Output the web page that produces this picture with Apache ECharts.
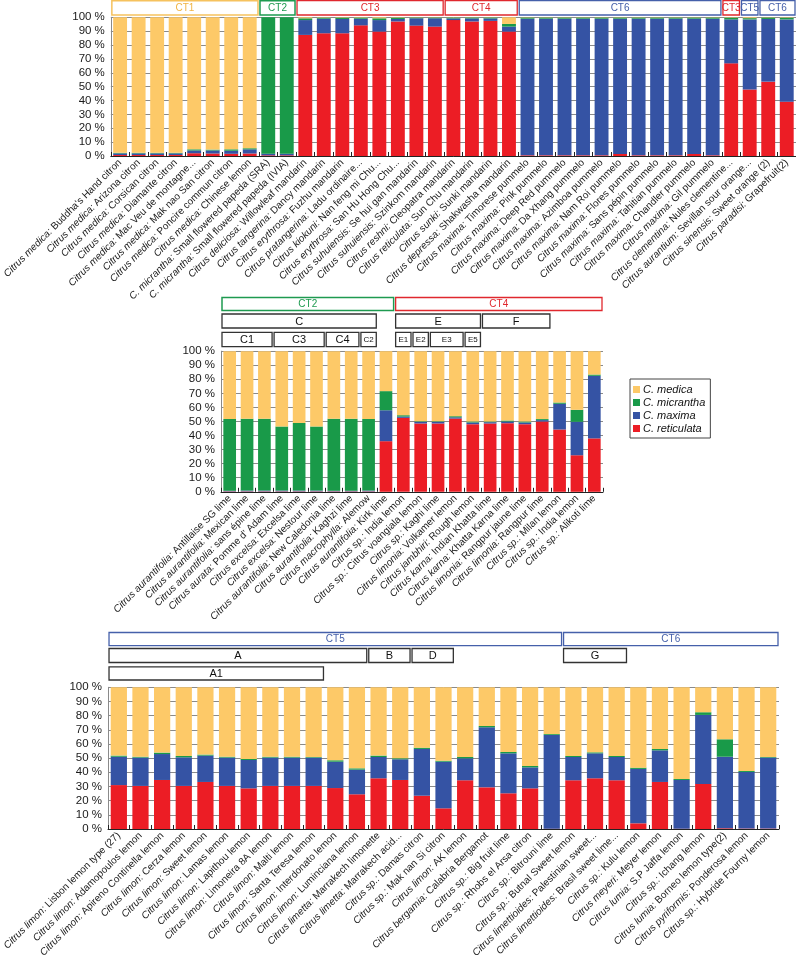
<!DOCTYPE html>
<html>
<head>
<meta charset="utf-8">
<script src="https://cdn.jsdelivr.net/npm/echarts@6/dist/echarts.min.js"></script>
<style>html,body{margin:0;padding:0;background:#fff;}#c{width:796px;height:961px;}</style>
</head>
<body>
<div id="c"></div>
<script>
// ---------- DATA ----------
const seriesNames = ['C. reticulata', 'C. maxima', 'C. micrantha', 'C. medica'];
const legendOrder = ['C. medica', 'C. micrantha', 'C. maxima', 'C. reticulata'];

const topCats = [
  "Citrus medica: Buddha's Hand citron", "Citrus medica: Arizona citron", "Citrus medica: Corsican citron",
  "Citrus medica: Diamante citron", "Citrus medica: Mac Veu de montagne...", "Citrus medica: Mak nao San citron",
  "Citrus medica: Poncire commun citron", "Citrus medica: Chinese lemon", "C. micrantha: Small flowered papeda (SRA)",
  "C. micrantha: Small flowered papeda (IVIA)", "Citrus deliciosa: Willowleaf mandarin", "Citrus tangerina: Dancy mandarin",
  "Citrus erythrosa: Fuzhu mandarin", "Citrus pratangerina: Ladu ordinaire...", "Citrus kiokuni: Nan feng mi Chu...",
  "Citrus erythrosa: San Hu Hong Chu...", "Citrus suhuiensis: Se hui gan mandarin", "Citrus suhuiensis: Szinkom mandarin",
  "Citrus reshni: Cleopatra mandarin", "Citrus reticulata: Sun Chu mandarin", "Citrus sunki: Sunki mandarin",
  "Citrus depressa: Shakwasha mandarin", "Citrus maxima: Timorese pummelo", "Citrus maxima: Pink pummelo",
  "Citrus maxima: Deep Red pummelo", "Citrus maxima: Da Xhang pummelo", "Citrus maxima: Azimboa pummelo",
  "Citrus maxima: Nam Roi pummelo", "Citrus maxima: Flores pummelo", "Citrus maxima: Sans pépin pummelo",
  "Citrus maxima: Tahitian pummelo", "Citrus maxima: Chandler pummelo", "Citrus maxima: Gil pummelo",
  "Citrus clementina: Nules clementine...", "Citrus aurantium: Sevillan sour orange...", "Citrus sinensis: Sweet orange (2)",
  "Citrus paradisi: Grapefruit(2)"
];
const topReticulata = [0.7,0.7,0.7,0.7,2,1.8,1.6,1.8,0.5,0.5,87.3,88.5,88.5,94.2,89.7,97,94,93.3,98,97,97.4,89.7,0.5,0.5,0.5,0.5,0.5,1.5,0.5,0.5,0.5,1.5,0.5,66.8,48,53.6,39.2];
const topMaxima     = [1.2,1.2,1.2,1.2,2,2.2,2.2,3,1.2,1.2,10.7,10.5,10.3,4.8,8.3,1.8,5.3,6,1.2,2.2,1.8,3.6,98.5,98.5,98.5,98.5,98.5,97.5,98.5,98.5,98.5,97.5,98.5,31.7,50.5,45.2,59.3];
const topMicrantha  = [0.4,0.4,0.4,0.4,0.8,0.6,1,0.8,98.3,98.3,1.3,0.7,0.9,0.7,1.3,0.9,0.5,0.5,0.6,0.6,0.6,1.9,0.8,0.8,0.8,0.8,0.8,0.8,0.8,0.8,0.8,0.8,0.8,1.2,0.9,1,1.2];
const topMedica     = [97.7,97.7,97.7,97.7,95.2,95.4,95.2,94.4,0,0,0.7,0.3,0.3,0.3,0.7,0.3,0.2,0.2,0.2,0.2,0.2,4.8,0.2,0.2,0.2,0.2,0.2,0.2,0.2,0.2,0.2,0.2,0.2,0.3,0.6,0.2,0.3];

const midCats = [
  "Citrus aurantifolia: Antillaise SG lime", "Citrus aurantifolia: Mexican lime", "Citrus aurantifolia: sans épine lime",
  "Citrus aurata: Pomme d' Adam lime", "Citrus excelsa: Excelsa lime", "Citrus excelsa: Nestour lime",
  "Citrus aurantifolia: New Caledonia lime", "Citrus aurantifolia: Kaghzi lime", "Citrus macrophylla: Alemow",
  "Citrus aurantifolia: Kirk lime", "Citrus sp.: India lemon", "Citrus sp.: Citrus voangiala lemon",
  "Citrus sp.: Kaghi lime", "Citrus limonia: Volkamer lemon", "Citrus jambhiri: Rough lemon",
  "Citrus karna: Indian Khatta lime", "Citrus karna: Khatta Karna lime", "Citrus limonia: Rangpur jaune lime",
  "Citrus limonia: Rangpur lime", "Citrus sp.: Milan lemon", "Citrus sp.: India lemon", "Citrus sp.: Alikoti lime"
];
const midReticulata = [0.3,0.3,0.3,0.3,0.3,0.3,0.3,0.3,0.3,36,52.6,48.6,48.6,52.1,48.1,48.6,48.8,48.1,50,44.3,26,38];
const midMaxima     = [0.5,0.6,0.6,0.6,0.6,0.6,0.5,0.5,0.6,22,0.9,1.2,1.2,0.9,1.2,0.9,1.2,1.2,1,18.3,23.8,44.5];
const midMicrantha  = [50.9,51.1,51.1,45.5,48.1,45.5,51.2,51.2,50.8,13.6,1,0.4,0.4,0.8,0.7,0.5,0.7,0.7,0.7,0.9,8.5,0.9];
const midMedica     = [48.3,48,48,53.6,51,53.6,48,48,48.3,28.4,45.5,49.8,49.8,46.2,50,50,49.3,50,48.3,36.5,41.7,16.6];

const botCats = [
  "Citrus limon: Lisbon lemon type (27)", "Citrus limon: Adamopoulos lemon", "Citrus limon: Apireno Continella lemon",
  "Citrus limon: Cerza lemon", "Citrus limon: Sweet lemon", "Citrus limon: Lamas lemon", "Citrus limon: Lapithou lemon",
  "Citrus limon: Limoneira 8A lemon", "Citrus limon: Malti lemon", "Citrus limon: Santa Teresa lemon",
  "Citrus limon: Interdonato lemon", "Citrus limon: Luminciana lemon", "Citrus limetta: Marrakech limonette",
  "Citrus limetta: Marrakech acid...", "Citrus sp.: Damas citron", "Citrus sp.: Mak nan Si citron",
  "Citrus limon: AK lemon", "Citrus bergamia: Calabria Bergamot", "Citrus sp.: Big fruit lime",
  "Citrus sp.: Rhobs el Arsa citron", "Citrus sp.: Bitrouni lime", "Citrus sp.: Butnal Sweet lemon",
  "Citrus limettioides: Palestinian sweet...", "Citrus limettioides: Brasil sweet lime...", "Citrus sp.: Kulu lemon",
  "Citrus meyeri: Meyer lemon", "Citrus lumia: S.P Jaffa lemon", "Citrus sp.: Ichang lemon",
  "Citrus lumia: Borneo lemon type(2)", "Citrus pyriformis: Ponderosa lemon", "Citrus sp.: Hybride Fourny lemon"
];
const botReticulata = [31,30.4,34.6,30.4,33.2,30.4,28.7,30.4,30.4,30.4,28.9,24.5,35.8,34.6,23.5,14.6,34.4,29.4,25.2,28.7,0.2,34.4,35.8,34.4,4,33.2,0.2,31.8,0.5,0.3,0.3];
const botMaxima     = [20,20,18.3,20.2,18.6,20,20,20,20,20,18.6,17.4,15,14.6,33,32.9,15.5,42.4,28.2,14.8,66.2,16.4,17.6,16.4,38.4,22.3,34.4,48.7,50.5,39.9,50.1];
const botMicrantha  = [0.8,0.6,1,0.9,0.7,0.6,0.7,0.6,0.6,0.4,1,0.9,1,0.7,0.9,0.7,0.9,0.9,1,1,0.6,0.7,0.7,0.7,0.9,1,0.7,1.9,12.3,0.7,0.4];
const botMedica     = [48.2,49,46.1,48.5,47.5,49,50.6,49,49,49.2,51.5,57.2,48.2,50.1,42.6,51.8,49.2,27.3,45.6,55.5,33,48.5,45.9,48.5,56.7,43.5,64.7,17.6,36.7,59.1,49.2];

const yTicks = [0,10,20,30,40,50,60,70,80,90,100];

// group boxes: [label, firstIndex, lastIndex, kind, row]
const topGroups = [
  ['CT1',0,7,'ct1',0],['CT2',8,9,'ct2',0],['CT3',10,17,'ct3',0],['CT4',18,21,'ct3',0],
  ['CT6',22,32,'ct5',0],['CT3',33,33,'ct3',0],['CT5',34,34,'ct5',0],['CT6',35,36,'ct5',0]
];
const midGroups = [
  ['CT2',0,9,'ct2',0],['CT4',10,21,'ct3',0],
  ['C',0,8,'sub',1],['E',10,14,'sub',1],['F',15,18,'sub',1],
  ['C1',0,2,'sub',2],['C3',3,5,'sub',2],['C4',6,7,'sub',2],['C2',8,8,'subs',2],
  ['E1',10,10,'subs',2],['E2',11,11,'subs',2],['E3',12,13,'subs',2],['E5',14,14,'subs',2]
];
const botGroups = [
  ['CT5',0,20,'ct5',0],['CT6',21,30,'ct5',0],
  ['A',0,11,'sub',1],['B',12,13,'sub',1],['D',14,15,'sub',1],['G',21,23,'sub',1],
  ['A1',0,9,'sub',2]
];

// ---------- STYLE ----------
const FONT = "'Liberation Sans', Arial, Helvetica, sans-serif";
const colors = {'C. medica':'#FDC968','C. micrantha':'#199A49','C. maxima':'#3553A4','C. reticulata':'#EC1D25'};
const kindStyle = {
  ct1:{stroke:'#F6C25E', fill:'#F0B443', font:'10px', lw:1.5},
  ct2:{stroke:'#1E9A50', fill:'#1E9A50', font:'10px', lw:1.5},
  ct3:{stroke:'#E0282E', fill:'#E0282E', font:'10px', lw:1.3},
  ct5:{stroke:'#4560AA', fill:'#4560AA', font:'10px', lw:1.3},
  sub:{stroke:'#333', fill:'#111', font:'11px', lw:1.3},
  subs:{stroke:'#333', fill:'#111', font:'8px', lw:1.3}
};

const panels = [
  {cats: topCats, data:[topReticulata, topMaxima, topMicrantha, topMedica], grid:{left:104, right:0, top:17.3, height:138.7}, gap:'25%', groups: topGroups, rows:[[0.7,14.3]]},
  {cats: midCats, data:[midReticulata, midMaxima, midMicrantha, midMedica], grid:{left:221, width:382, top:351.2, height:140.6}, gap:'27%', groups: midGroups, rows:[[297.5,13],[314,14],[332.3,14.3]]},
  {cats: botCats, data:[botReticulata, botMaxima, botMicrantha, botMedica], grid:{left:108, right:17, top:687.3, height:141.7}, gap:'25%', groups: botGroups, rows:[[632.5,13.2],[648.5,14],[666.8,13.2]]}
];

function labelFmt(v) {
  const i = v.indexOf(':');
  if (i < 0) return '{i|' + v + '}';
  return '{i|' + v.slice(0, i + 1) + '}{n|' + v.slice(i + 1) + '}';
}

const option = {
  animation: false,
  backgroundColor: '#fff',
  grid: panels.map(p => Object.assign({containLabel:false}, p.grid)),
  xAxis: panels.map((p, k) => ({
    type:'category', gridIndex:k, data:p.cats,
    axisLine:{show:true, lineStyle:{color:'#222', width:1}},
    axisTick:{show:true, inside:true, length:4, lineStyle:{color:'#222'}},
    axisLabel:{interval:0, rotate:45, margin:5, formatter:labelFmt,
      rich:{i:{fontStyle:'italic', fontSize:10, fontFamily:FONT, color:'#1a1a1a'},
            n:{fontSize:10, fontFamily:FONT, color:'#1a1a1a'}}},
    splitLine:{show:false}
  })),
  yAxis: panels.map((p, k) => ({
    type:'value', gridIndex:k, min:yTicks[0], max:yTicks[yTicks.length-1], interval:yTicks[1]-yTicks[0],
    axisLine:{show:true, lineStyle:{color:'#8a8a8a'}},
    axisTick:{show:false},
    axisLabel:{formatter:'{value} %', fontSize:11.5, fontFamily:FONT, color:'#1a1a1a', margin:6},
    splitLine:{show:true, lineStyle:{color:'#8a8a8a', width:1}}
  })),
  legend: {
    orient:'vertical', left:630, top:379, data:legendOrder, icon:'rect',
    itemWidth:7, itemHeight:7, itemGap:2,
    borderColor:'#444', borderWidth:1, borderRadius:0, padding:[5,5,4,3],
    textStyle:{fontStyle:'italic', fontSize:11, fontFamily:FONT, color:'#111', lineHeight:11, padding:[0,0,0,-2]},
    selectedMode:false
  },
  series: []
};

panels.forEach((p, k) => {
  seriesNames.forEach((name, j) => {
    option.series.push({
      type:'bar', name:name, xAxisIndex:k, yAxisIndex:k, stack:'s'+k,
      data:p.data[j], barCategoryGap:p.gap,
      itemStyle:{color:colors[name]}, emphasis:{disabled:true}
    });
  });
});

const chart = echarts.init(document.getElementById('c'), null, {renderer:'canvas', width:796, height:961});
chart.setOption(option);

// group boxes positioned through the category axes
const graphics = [];
panels.forEach((p, k) => {
  const x0 = chart.convertToPixel({xAxisIndex:k}, 0);
  const x1 = chart.convertToPixel({xAxisIndex:k}, 1);
  const band = x1 - x0;
  p.groups.forEach(g => {
    const [label, a, b, kind, row] = g;
    const st = kindStyle[kind];
    const left = chart.convertToPixel({xAxisIndex:k}, a) - band/2 + 1;
    const right = chart.convertToPixel({xAxisIndex:k}, b) + band/2 - 1;
    const [ry, rh] = p.rows[row];
    graphics.push({type:'rect', shape:{x:left, y:ry, width:right-left, height:rh},
      style:{fill:'#fff', stroke:st.stroke, lineWidth:st.lw}, silent:true, z:10});
    graphics.push({type:'text', x:(left+right)/2, y:ry+rh/2+0.5,
      style:{text:label, fill:st.fill, font:st.font + ' ' + FONT, textAlign:'center', textVerticalAlign:'middle'},
      silent:true, z:11});
  });
});
chart.setOption({graphic:{elements:graphics}});
</script>
</body>
</html>
